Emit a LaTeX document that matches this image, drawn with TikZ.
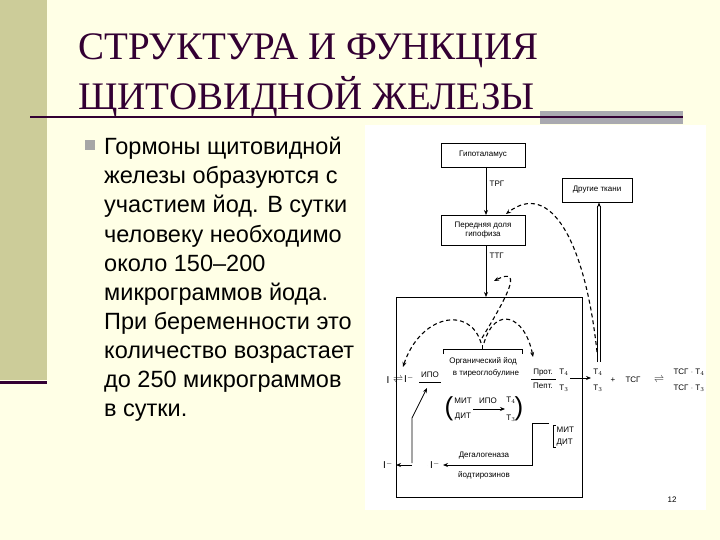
\documentclass[tikz,border=0pt]{standalone}
\usepackage{fontspec}
\setmainfont{Liberation Sans}
\newfontfamily\ttlfont{Liberation Serif}
\usetikzlibrary{arrows.meta}
\definecolor{cream}{HTML}{FFFFE6}
\definecolor{olive}{HTML}{CCCC99}
\definecolor{ttl}{HTML}{330033}
\definecolor{grayblk}{HTML}{A9A9B0}
\begin{document}
\begin{tikzpicture}[x=1pt,y=-1pt,
  body/.style={anchor=base west,inner sep=0,font=\fontsize{23.5}{23.5}\selectfont},
  ttlst/.style={anchor=base west,inner sep=0,text=ttl,font=\ttlfont\fontsize{39}{39}\selectfont},
  sm/.style={inner sep=0.5,font=\fontsize{8}{8}\selectfont},
  big/.style={inner sep=0.5,font=\fontsize{10}{10}\selectfont},
  bx/.style={draw,line width=0.9pt,align=center,font=\fontsize{8}{9}\selectfont,inner sep=0},
  ar/.style={-{Stealth[length=5pt,width=4pt]},line width=0.8pt},
  da/.style={-{Stealth[length=5pt,width=4pt]},line width=1.1pt,dash pattern=on 4pt off 3pt}]
\useasboundingbox (0,0) rectangle (720,540);
\fill[cream] (0,0) rectangle (720,540);
\fill[olive] (0,0) rectangle (47,380);
\fill[ttl] (0,381) rectangle (47,384);
\fill[grayblk] (540,111) rectangle (683,124);
\draw[ttl,line width=2pt] (30,117) -- (683,117);
\node[ttlst] (t1) at (78,60) {СТРУКТУРА И ФУНКЦИЯ};
\node[ttlst] (t2) at (78,110) {ЩИТОВИДНОЙ ЖЕЛЕЗЫ};
\fill[gray!70] (85,140) rectangle (95,150);
\foreach \t [count=\i from 0] in {Гормоны щитовидной,железы образуются с,участием йод. В сутки,человеку необходимо,около 150–200,микрограммов йода.,При беременности это,количество возрастает,до 250 микрограммов,в сутки.}
  \node[body] (b\i) at (104,155+29*\i) {\t};
% diagram
\fill[white] (365,125) rectangle (706,510);
\node[bx,minimum width=84,minimum height=24] (hyp) at (483,155) {Гипоталамус};
\node[bx,minimum width=84,minimum height=30] (pit) at (483,230) {Передняя доля\\гипофиза};
\node[bx,minimum width=70,minimum height=24] (oth) at (597,190) {Другие ткани};
\draw[line width=0.9pt] (396,297) rectangle (582,497);
\coordinate (h1) at (486,167);
\coordinate (p1) at (486,215);
\coordinate (p2) at (486,245);
\coordinate (gtop) at (486,297);
\draw[ar] (h1) -- (p1);
\node[sm,anchor=west] (trg) at (489,184) {ТРГ};
\draw[ar] (p2) -- (gtop);
\node[sm,anchor=west] (ttg) at (489,256) {ТТГ};
% long dashed feedback
\coordinate (fbs) at (597,352);
\draw[da] (fbs) .. controls (585,240) and (550,180) .. (506,214);
% small dashed loop
\coordinate (lps) at (482,338);
\draw[da] (lps) .. controls (505,300) and (525,265) .. (494,281);
% double line to other tissues
\coordinate (dl) at (599,362);
\draw[line width=0.8pt,double distance=2pt,-{Stealth[length=5pt,width=4pt]}] (dl) -- (oth.south -| dl);
% bracket
\draw[line width=0.8pt] (443,354) -- (443,349) -- (522,349) -- (522,354) (482,349) -- (482,345);
\draw[da] (481,343) .. controls (470,305) and (420,315) .. (403,367);
\draw[da] (484,343) .. controls (495,305) and (525,315) .. (533,357);
\node[sm] (org) at (483,361) {Органический йод};
\node[sm] (tg) at (486,373) {в тиреоглобулине};
\node[big] (i1) at (388,380) {I};
\node[big] (eq1) at (398,380) {$\rightleftharpoons$};
\node[big] (i2) at (409,379) {I$^-$};
\node[sm] (ipo1) at (430,375) {ИПО};
\draw[line width=0.7pt] (419,382) -- (441,382);
\node[sm] (prot) at (543,373) {Прот.};
\draw[line width=0.7pt] (531,379) -- (556,379);
\node[sm] (pept) at (543,386) {Пепт.};
\node[sm] (t4a) at (564,372) {T$_4$};
\node[sm] (t3a) at (564,388) {T$_3$};
\node[sm] (t4b) at (598,372) {T$_4$};
\node[sm] (t3b) at (598,388) {T$_3$};
\coordinate (aa) at (570,378);
\draw[ar] (aa) -- (591,378);
\node[sm] (plus) at (613,380) {+};
\node[sm] (tsg) at (633,380) {ТСГ};
\node[big] (eq2) at (659,380) {$\rightleftharpoons$};
\node[sm] (c1) at (689,372) {ТСГ $\cdot$ T$_4$};
\node[sm] (c2) at (689,388) {ТСГ $\cdot$ T$_3$};
% inner reaction
\node[inner sep=0,font=\fontsize{26}{26}\selectfont] (lp) at (449,409) {(};
\node[sm] (mit) at (463,401) {МИТ};
\node[sm] (dit) at (463,417) {ДИТ};
\node[sm] (ipo2) at (488,401) {ИПО};
\coordinate (ra) at (473,409);
\draw[ar] (ra) -- (505,409);
\node[sm] (t4c) at (511,400) {T$_4$};
\node[sm] (t3c) at (511,418) {T$_3$};
\node[inner sep=0,font=\fontsize{26}{26}\selectfont] (rp) at (519,409) {)};
% MIT DIT on right
\draw[line width=0.8pt] (556,425) -- (553,425) -- (553,447) -- (556,447);
\node[sm,anchor=west] (mit2) at (556,430) {МИТ};
\node[sm,anchor=west] (dit2) at (556,443) {ДИТ};
\coordinate (ds) at (549,423);
\draw[ar] (ds) -- (532,423) -- (532,465) -- (443,465);
\node[sm] (deg) at (484,456) {Дегалогеназа};
\node[sm] (yod) at (484,475) {йодтирозинов};
\node[big] (i3) at (435,465) {I$^-$};
\node[big] (i4) at (388,465) {I$^-$};
\draw[line width=0.7pt,double distance=1.5pt] (427,465) -- (412,465);
\draw[ar] (412,465) -- (396,465);
\draw[ar] (412,463) -- (412,418) -- (427,388);
\node[sm] (pg) at (672,500) {12};
\end{tikzpicture}
\end{document}
